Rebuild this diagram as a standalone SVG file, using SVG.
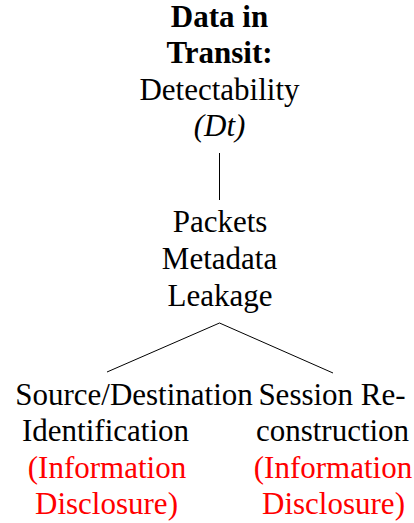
<svg xmlns="http://www.w3.org/2000/svg" width="414" height="523" viewBox="0 0 414 523">
<style>
.b{font-weight:bold}
.i{font-style:italic}
.r{fill:#ff0000}
.e{stroke:#000;stroke-width:1;fill:none}
</style>
<rect width="414" height="523" fill="#fff"/>
<g font-family="Liberation Serif" font-size="31" fill="#000" text-anchor="middle">
<g id="root">
<text class="b" x="219.5" y="27">Data in</text>
<text class="b" x="219.5" y="63">Transit:</text>
<text x="219.5" y="100">Detectability</text>
<text class="i" x="219.5" y="136">(Dt)</text>
</g>
<g id="mid">
<text x="220" y="232">Packets</text>
<text x="219.5" y="269">Metadata</text>
<text x="220" y="306">Leakage</text>
</g>
<g id="left">
<text x="134" y="404.5">Source/Destination</text>
<text x="105.5" y="441">Identification</text>
<text class="r" x="107" y="477.5">(Information</text>
<text class="r" x="106.5" y="514">Disclosure)</text>
</g>
<g id="right">
<text x="332" y="404.5">Session Re-</text>
<text x="332.5" y="441">construction</text>
<text class="r" x="333" y="477.5">(Information</text>
<text class="r" x="333.5" y="514">Disclosure)</text>
</g>
</g>
<g id="edges">
<line class="e" x1="219.5" y1="153" x2="219.5" y2="200"/>
<line class="e" x1="219.5" y1="323" x2="107" y2="372"/>
<line class="e" x1="219.5" y1="323" x2="333" y2="373"/>
</g>
</svg>
